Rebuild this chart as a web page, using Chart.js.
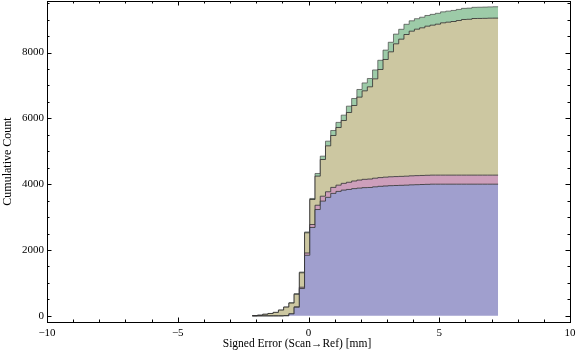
<!DOCTYPE html>
<html>
<head>
<meta charset="utf-8">
<script src="https://cdn.jsdelivr.net/npm/chart.js@4/dist/chart.umd.min.js"></script>
<style>
  html, body { margin: 0; padding: 0; background: #fff; }
  #wrap { width: 576px; height: 362px; }
</style>
</head>
<body>
<div id="wrap"><canvas id="cumChart" width="576" height="362"></canvas></div>
<script>
// bin edges (left edges of each 0.2 mm bin, plus the final right edge)
const binEdges = [-2.15, -1.95, -1.75, -1.55, -1.35, -1.15, -0.95, -0.75, -0.55, -0.35,
  -0.15, 0.05, 0.25, 0.45, 0.65, 0.85, 1.05, 1.25, 1.45, 1.65,
  1.85, 2.05, 2.25, 2.45, 2.65, 2.85, 3.05, 3.25, 3.45, 3.65,
  3.85, 4.05, 4.25, 4.45, 4.65, 4.85, 5.05, 5.25, 5.45, 5.65,
  5.85, 6.05, 6.25, 6.45, 6.65, 6.85, 7.05, 7.25];

// cumulative counts per series (own counts, stacked by the chart)
const blueCounts = [0, 0, 0, 0, 0, 0, 5, 60, 260, 830,
  1840, 2685, 3230, 3485, 3600, 3720, 3780, 3820, 3840, 3865,
  3880, 3895, 3900, 3920, 3935, 3945, 3955, 3960, 3965, 3970,
  3980, 3985, 3990, 3995, 4000, 4000, 4000, 4000, 4000, 4000,
  4000, 4000, 4000, 4000, 4000, 4000, 4000];
const pinkCounts = [0, 0, 0, 0, 0, 0, 0, 3, 15, 40,
  70, 90, 130, 150, 170, 182, 190, 205, 218, 232,
  245, 252, 256, 262, 265, 268, 270, 271, 272, 273,
  274, 275, 275, 275, 275, 275, 275, 275, 275, 275,
  275, 275, 275, 275, 275, 275, 275];
const tanCounts = [5, 20, 48, 72, 105, 175, 260, 325, 380, 438,
  613, 760, 884, 1115, 1395, 1577, 1752, 1910, 2120, 2293,
  2519, 2689, 2802, 3018, 3284, 3575, 3796, 4033, 4168, 4304,
  4394, 4449, 4485, 4530, 4556, 4586, 4627, 4647, 4667, 4697,
  4728, 4735, 4758, 4760, 4763, 4768, 4770];
const greenCounts = [0, 0, 0, 0, 0, 0, 3, 10, 20, 22,
  25, 31, 81, 101, 142, 152, 155, 162, 192, 213,
  233, 240, 253, 270, 280, 285, 290, 295, 300, 310,
  315, 318, 322, 325, 328, 330, 333, 335, 336, 337,
  338, 339, 340, 341, 342, 343, 345];

const xMajorTicks = [-10, -5, 0, 5, 10];
const yMajorTicks = [0, 2000, 4000, 6000, 8000];
const xTitle = 'Signed Error (Scan\u2192Ref) [mm]';

function steps(counts) {
  return binEdges.map((x, i) => ({ x: x, y: counts[Math.min(i, counts.length - 1)] }));
}

function series(counts, fillColor, edgeColor, fill) {
  return {
    data: steps(counts),
    backgroundColor: fillColor,
    borderColor: edgeColor,
    borderWidth: 1,
    stepped: 'before',
    pointRadius: 0,
    fill: fill
  };
}

// frame with inward ticks, Mathematica style, plus the x title
const frameTicks = {
  id: 'frameTicks',
  afterDatasetsDraw(chart) {
    const { ctx, chartArea: a, scales: { x, y } } = chart;
    ctx.save();
    ctx.strokeStyle = '#000';
    ctx.lineWidth = 1;
    ctx.beginPath();
    for (let v = -10; v <= 10; v++) {
      const px = Math.round(x.getPixelForValue(v)) + 0.5;
      const len = v % 5 === 0 ? 4.5 : 2.5;
      ctx.moveTo(px, a.bottom); ctx.lineTo(px, a.bottom - len);
      ctx.moveTo(px, a.top); ctx.lineTo(px, a.top + len);
    }
    for (let v = 0; v <= 9500; v += 500) {
      const py = Math.round(y.getPixelForValue(v)) + 0.5;
      const len = v % 2000 === 0 ? 4.5 : 2.5;
      ctx.moveTo(a.left, py); ctx.lineTo(a.left + len, py);
      ctx.moveTo(a.right, py); ctx.lineTo(a.right - len, py);
    }
    ctx.stroke();
    ctx.strokeRect(Math.round(a.left) + 0.5, Math.round(a.top) + 0.5,
      Math.round(a.right - a.left), Math.round(a.bottom - a.top));

    ctx.fillStyle = '#000';
    ctx.font = '11.5px "Liberation Serif", serif';
    ctx.textAlign = 'center';
    ctx.textBaseline = 'alphabetic';
    ctx.fillText(xTitle, 297, 347);
    ctx.restore();
  }
};

Chart.defaults.font.family = '"Liberation Serif", "Times New Roman", serif';
Chart.defaults.color = '#000';

new Chart(document.getElementById('cumChart').getContext('2d'), {
  type: 'line',
  data: {
    datasets: [
      series(blueCounts, 'rgb(160,159,206)', 'rgba(45,45,45,0.8)', 'origin'),
      series(pinkCounts, 'rgb(205,159,187)', 'rgba(45,45,45,0.8)', '-1'),
      series(tanCounts, 'rgb(204,199,161)', 'rgba(40,40,40,0.8)', '-1'),
      series(greenCounts, 'rgb(157,203,168)', 'rgba(70,70,70,0.7)', '-1')
    ]
  },
  options: {
    responsive: false,
    animation: false,
    layout: { padding: { left: 0, right: 6, top: 1, bottom: 0 } },
    plugins: {
      legend: { display: false },
      tooltip: { enabled: false }
    },
    scales: {
      x: {
        type: 'linear',
        min: -10,
        max: 10,
        grid: { display: false, drawTicks: false },
        border: { display: false },
        afterBuildTicks: (s) => { s.ticks = xMajorTicks.map((v) => ({ value: v })); },
        afterFit: (s) => { s.height = 40; s.paddingLeft = 0; s.paddingRight = 0; },
        ticks: {
          autoSkip: false,
          padding: 5,
          maxRotation: 0,
          font: { size: 11 },
          callback: (v) => v < 0 ? '\u2212' + Math.abs(v) : String(v)
        }
      },
      y: {
        stacked: true,
        min: -187,
        max: 9565,
        grid: { display: false, drawTicks: false },
        border: { display: false },
        afterBuildTicks: (s) => { s.ticks = yMajorTicks.map((v) => ({ value: v })); },
        afterFit: (s) => { s.width = 47; s.paddingTop = 0; s.paddingBottom = 0; },
        ticks: {
          autoSkip: false,
          padding: 3,
          font: { size: 11 },
          callback: (v) => String(v)
        },
        title: {
          display: true,
          text: 'Cumulative Count',
          font: { size: 12 },
          padding: { top: 1, bottom: 0 }
        }
      }
    }
  },
  plugins: [frameTicks]
});
</script>
</body>
</html>
